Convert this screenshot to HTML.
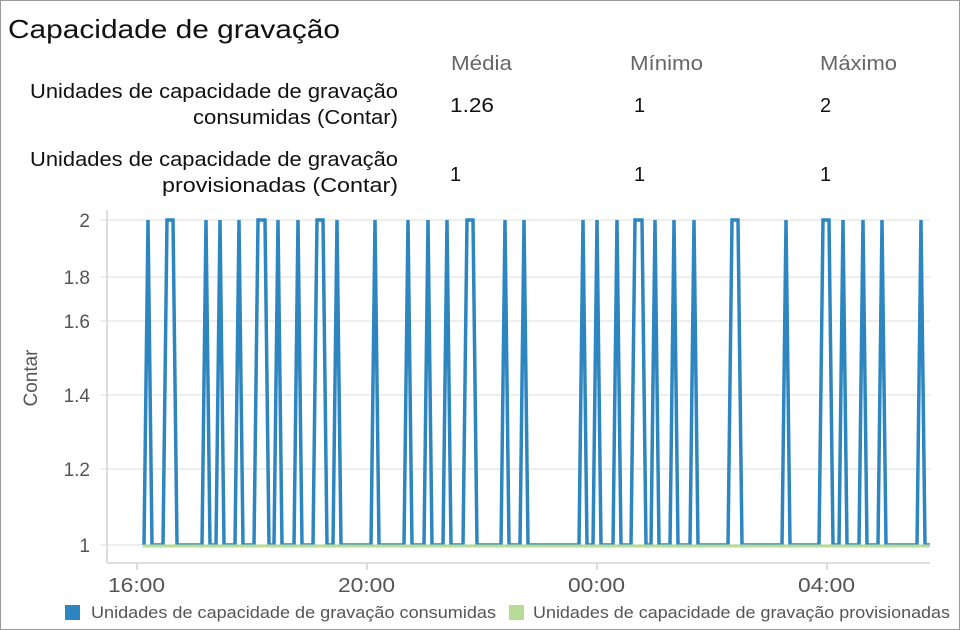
<!DOCTYPE html><html><head><style>body{margin:0}svg{display:block}</style></head><body>
<svg width="960" height="630" xmlns="http://www.w3.org/2000/svg" font-family="Liberation Sans, DejaVu Sans, sans-serif">
<rect x="0.5" y="0.5" width="959" height="629" fill="#fff" stroke="#999"/>
<text x="8" y="38" font-size="26" fill="#111" textLength="332" lengthAdjust="spacingAndGlyphs">Capacidade de gravação</text>
<g font-size="20" fill="#666"><text x="451" y="70" textLength="61" lengthAdjust="spacingAndGlyphs">Média</text><text x="630" y="70" textLength="73" lengthAdjust="spacingAndGlyphs">Mínimo</text><text x="820" y="70" textLength="77" lengthAdjust="spacingAndGlyphs">Máximo</text></g>
<g font-size="20" fill="#111"><text x="30" y="98" textLength="368" lengthAdjust="spacingAndGlyphs">Unidades de capacidade de gravação</text><text x="193" y="124" textLength="205" lengthAdjust="spacingAndGlyphs">consumidas (Contar)</text><text x="30" y="166" textLength="368" lengthAdjust="spacingAndGlyphs">Unidades de capacidade de gravação</text><text x="162" y="192" textLength="236" lengthAdjust="spacingAndGlyphs">provisionadas (Contar)</text></g>
<g font-size="20" fill="#111"><text x="450" y="112" textLength="44" lengthAdjust="spacingAndGlyphs">1.26</text><text x="634" y="112">1</text><text x="820" y="112">2</text><text x="450" y="181">1</text><text x="634" y="181">1</text><text x="820" y="181">1</text></g>
<g stroke="#eee" stroke-width="2"><line x1="100" y1="220" x2="930" y2="220"/><line x1="100" y1="277" x2="930" y2="277"/><line x1="100" y1="321" x2="930" y2="321"/><line x1="100" y1="395" x2="930" y2="395"/><line x1="100" y1="469" x2="930" y2="469"/><line x1="100" y1="545" x2="930" y2="545"/></g>
<g stroke="#ddd" stroke-width="2"><line x1="107" y1="210" x2="107" y2="563"/><line x1="107" y1="563" x2="930" y2="563"/><line x1="137" y1="563" x2="137" y2="570"/><line x1="367" y1="563" x2="367" y2="570"/><line x1="597" y1="563" x2="597" y2="570"/><line x1="827" y1="563" x2="827" y2="570"/></g>
<g font-size="19" fill="#555" text-anchor="end"><text x="90" y="227">2</text><text x="90" y="284">1.8</text><text x="90" y="328">1.6</text><text x="90" y="402">1.4</text><text x="90" y="476">1.2</text><text x="90" y="552">1</text></g>
<text transform="translate(37,378) rotate(-90)" font-size="19" fill="#555" text-anchor="middle">Contar</text>
<g font-size="20" fill="#555"><text x="108" y="592" textLength="57" lengthAdjust="spacingAndGlyphs">16:00</text><text x="338" y="592" textLength="57" lengthAdjust="spacingAndGlyphs">20:00</text><text x="568" y="592" textLength="57" lengthAdjust="spacingAndGlyphs">00:00</text><text x="798" y="592" textLength="57" lengthAdjust="spacingAndGlyphs">04:00</text></g>
<path fill="none" stroke="#2e86c1" stroke-width="3.5" stroke-linejoin="miter" d="M143,545 L144,545 L148,220 L152,545 L163,545 L167,220 L173,220 L177,545 L202,545 L206,220 L210,545 L216,545 L220,220 L224,545 L235,545 L239,220 L243,545 L254,545 L258,220 L265,220 L269,545 L274,545 L278,220 L282,545 L294,545 L298,220 L302,545 L313,545 L317,220 L323,220 L327,545 L333,545 L337,220 L341,545 L371,545 L375,220 L379,545 L404,545 L408,220 L412,545 L424,545 L428,220 L432,545 L443,545 L447,220 L451,545 L463,545 L467,220 L473,220 L477,545 L501,545 L505,220 L509,545 L520,545 L524,220 L528,545 L579,545 L583,220 L587,545 L593,545 L597,220 L601,545 L613,545 L617,220 L621,545 L631,545 L635,220 L642,220 L646,545 L651,545 L655,220 L659,545 L670,545 L674,220 L678,545 L690,545 L694,220 L698,545 L728,545 L732,220 L738,220 L742,545 L782,545 L786,220 L790,545 L819,545 L823,220 L829,220 L833,545 L839,545 L843,220 L847,545 L859,545 L863,220 L867,545 L878,545 L882,220 L886,545 L917,545 L921,220 L925,545 L930,545"/>
<line x1="143" y1="546" x2="930" y2="546" stroke="#b8dc98" stroke-width="3"/>
<rect x="65" y="605" width="15" height="15" fill="#2e86c1"/>
<text x="91" y="618" font-size="17" fill="#555" textLength="405" lengthAdjust="spacingAndGlyphs">Unidades de capacidade de gravação consumidas</text>
<rect x="509" y="605" width="15" height="15" fill="#b8dc98"/>
<text x="533" y="618" font-size="17" fill="#555" textLength="417" lengthAdjust="spacingAndGlyphs">Unidades de capacidade de gravação provisionadas</text>
</svg></body></html>
